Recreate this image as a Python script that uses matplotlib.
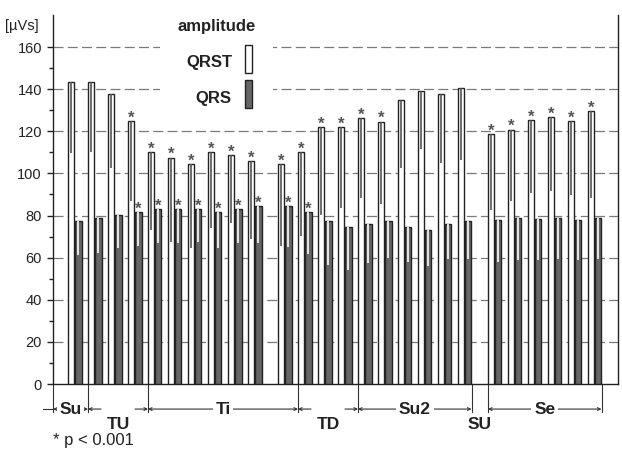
import numpy as np
import matplotlib.pyplot as plt
from matplotlib.patches import Rectangle

plt.rcParams['font.family'] = ['Liberation Sans', 'DejaVu Sans']

# QRST / QRS amplitude means and lower ends of the SD stripes (µVs)
qrst = [143.4, 143.4, 137.7, 124.7, 110.3, 107.5, 104.5, 110.3, 108.9, 106.0,
        104.6, 110.3, 121.8, 121.8, 126.1, 124.6, 134.7, 139.0, 137.5, 140.4,
        118.5, 120.8, 125.4, 126.6, 125.0, 129.6]
qrst_low = [109.8, 110.3, 102.4, 87.0, 73.1, 67.6, 64.4, 73.9, 76.6, 68.7,
            65.7, 70.3, 80.2, 83.4, 88.2, 85.5, 102.4, 111.6, 104.8, 106.4,
            82.6, 87.1, 90.8, 91.8, 89.7, 88.2]
qrs = [77.4, 78.8, 80.4, 81.8, 82.9, 82.9, 82.9, 81.8, 82.9, 84.3,
       84.3, 81.6, 77.2, 74.4, 76.0, 77.2, 74.4, 73.1, 76.0, 77.2,
       77.9, 78.7, 78.2, 78.7, 77.9, 78.7]
qrs_low = [61.3, 62.3, 64.4, 65.5, 67.1, 67.1, 67.6, 64.4, 66.8, 66.8,
           65.2, 61.8, 56.5, 54.1, 57.3, 59.6, 58.1, 56.0, 59.2, 59.2,
           58.1, 58.9, 58.9, 59.2, 58.9, 59.5]
qrst_sig = [0, 0, 0, 1, 1, 1, 1, 1, 1, 1, 1, 1, 1, 1, 1, 1, 0, 0, 0, 0,
            1, 1, 1, 1, 1, 1]
qrs_sig = [0, 0, 0, 1, 1, 1, 1, 1, 1, 1, 1, 1, 0, 0, 0, 0, 0, 0, 0, 0,
           0, 0, 0, 0, 0, 0]

segments = ['Su', 'TU', 'Ti', 'TD', 'Su2', 'SU', 'Se']
seg_sizes = [1, 3, 7, 3, 6, 0, 6]
seg_lower = [False, True, False, True, False, True, False]

# pair positions (extra space after pair 10 and pair 20)
n = len(qrst)
pos = np.arange(n, dtype=float)
pos[10:] += 0.5
pos[20:] += 0.5
w = 0.31
xw = pos + 0.16
xd = pos + 0.52

fig = plt.figure(figsize=(6.22, 4.53), dpi=100)
ax = fig.add_axes([53 / 622, 1 - 384 / 453, 565 / 622, 369 / 453])
ax.set_xlim(-0.75, 27.5)
ax.set_ylim(0, 175.2)

for v in range(20, 161, 20):
    ax.axhline(v, color='#7a7a7a', lw=0.9, ls=(0, (8, 3.4)), zorder=1)

# white patch behind the legend
ax.add_patch(Rectangle((0.189, 0.742), 0.2, 0.26, transform=ax.transAxes,
                       fc='white', ec='none', zorder=2))

ax.bar(xw, qrst, width=w, color='white', edgecolor='#222222', lw=1.0, zorder=3)
ax.bar(xd, qrs, width=w, color='#666666', edgecolor='#222222', lw=1.0, zorder=3)
ax.vlines(xw, qrst_low, qrst, color='#555555', lw=1.2, zorder=4)
ax.vlines(xd, qrs_low, qrs, color='#e6e6e6', lw=1.4, zorder=4)

for i in range(n):
    if qrst_sig[i]:
        ax.annotate('*', (xw[i], qrst[i]), xytext=(0, -1.2), textcoords='offset points',
                    ha='center', va='baseline', fontsize=12, fontweight='bold',
                    color='#555555', zorder=5)
    if qrs_sig[i]:
        ax.annotate('*', (xd[i], qrs[i]), xytext=(0, -1.2), textcoords='offset points',
                    ha='center', va='baseline', fontsize=12, fontweight='bold',
                    color='#555555', zorder=5)

ax.spines['top'].set_visible(False)
for s in ['left', 'right', 'bottom']:
    ax.spines[s].set_color('#222222')
    ax.spines[s].set_linewidth(1.0)
ax.set_xticks([])
ax.set_yticks(range(0, 161, 20))
ax.set_yticks(range(10, 160, 20), minor=True)
ax.tick_params(axis='y', which='major', length=4, width=1, pad=4,
               labelsize=10.5, colors='#222222')
ax.tick_params(axis='y', which='minor', length=3, width=1, colors='#222222')

# segment brackets under the axis
ybr = -11.9
ylow = -19.0
bounds = [-0.75]
start = 0
for k, size in enumerate(seg_sizes):
    if size == 0:
        bounds.append(xd[start - 1] + w / 2)
        continue
    if k > 0:
        bounds.append(pos[start])
    start += size
bounds.append(xd[-1] + w / 2)

for b in bounds:
    ax.plot([b, b], [0, ybr - 1.2], color='#333333', lw=0.8, clip_on=False)
ax.plot([-1.25, -0.75], [ybr, ybr], color='#333333', lw=0.8, clip_on=False)

arrow = dict(arrowstyle='->', color='#333333', lw=0.8, shrinkA=0, shrinkB=0,
             mutation_scale=5)
for k, label in enumerate(segments):
    a, b = bounds[k], bounds[k + 1]
    mid = (a + b) / 2
    if seg_lower[k]:
        half = 0.85
        if b - a > 2 * half:
            ax.annotate('', (a, ybr), (mid - half, ybr), arrowprops=arrow,
                        annotation_clip=False)
            ax.annotate('', (b, ybr), (mid + half, ybr), arrowprops=arrow,
                        annotation_clip=False)
        ax.text(mid, ylow, label, ha='center', va='center', fontsize=12.5,
                fontweight='bold', color='#222222', clip_on=False)
    else:
        ax.annotate('', (a, ybr), (mid, ybr), arrowprops=arrow, annotation_clip=False)
        ax.annotate('', (b, ybr), (mid, ybr), arrowprops=arrow, annotation_clip=False)
        ax.text(mid, ybr, label, ha='center', va='center', fontsize=12.5,
                fontweight='bold', color='#222222', clip_on=False,
                bbox=dict(fc='white', ec='none', pad=2), zorder=5)

# legend
ax.text(0.290, 0.970, 'amplitude', transform=ax.transAxes, ha='center', va='center',
        fontsize=12, fontweight='bold', color='#222222')
ax.text(0.317, 0.870, 'QRST', transform=ax.transAxes, ha='right', va='center',
        fontsize=12, fontweight='bold', color='#222222')
ax.text(0.315, 0.775, 'QRS', transform=ax.transAxes, ha='right', va='center',
        fontsize=12, fontweight='bold', color='#222222')
ax.add_patch(Rectangle((0.340, 0.843), 0.0124, 0.076, transform=ax.transAxes,
                       fc='white', ec='#222222', lw=1.0, zorder=3))
ax.add_patch(Rectangle((0.340, 0.748), 0.0124, 0.076, transform=ax.transAxes,
                       fc='#666666', ec='#222222', lw=1.0, zorder=3))

fig.text(5 / 622, 1 - 26 / 453, '[µVs]', va='center', fontsize=10.5, color='#222222')
fig.text(53 / 622, 1 - 440 / 453, '* p < 0.001', va='center', fontsize=12,
         color='#222222')

fig.savefig('out.png', dpi=100)
